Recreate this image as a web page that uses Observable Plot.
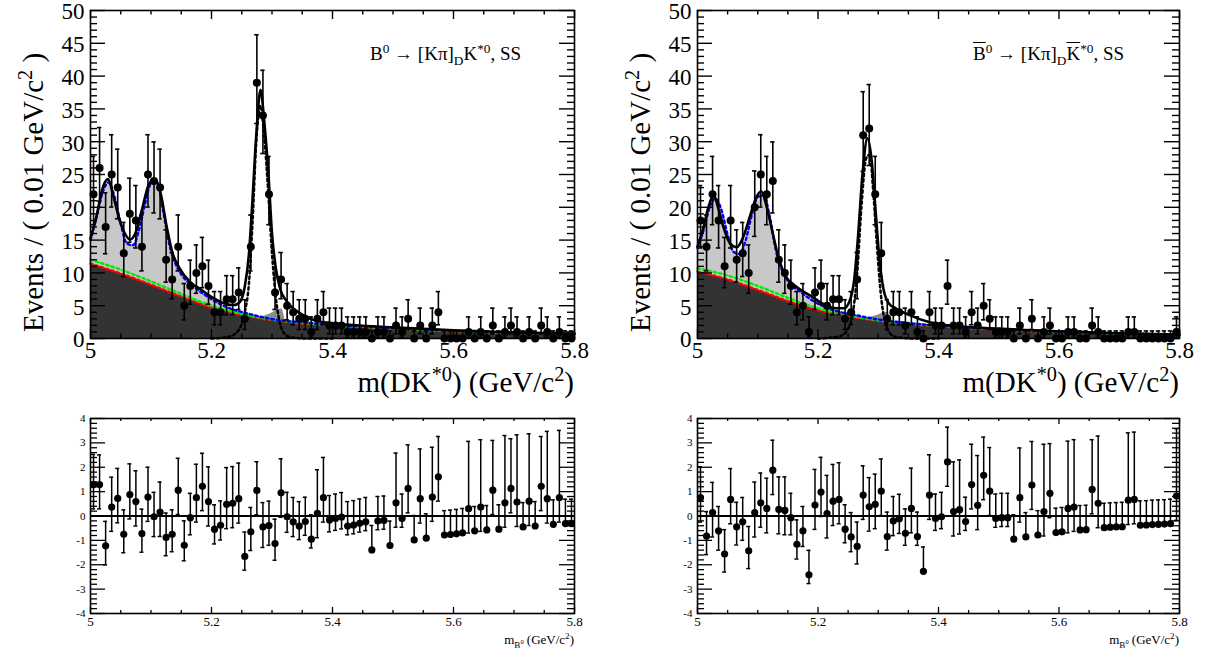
<!DOCTYPE html>
<html><head><meta charset="utf-8">
<script src="https://cdn.jsdelivr.net/npm/d3@7"></script>
<script src="https://cdn.jsdelivr.net/npm/@observablehq/plot@0.6"></script>
<style>
body{margin:0;background:#fff;}
#fig{position:relative;width:1206px;height:657px;overflow:hidden;font-family:"Liberation Serif","Times New Roman",serif;color:#000;background:#fff;}
.abs{position:absolute;white-space:nowrap;line-height:1;}
.ytitle{font-size:29px;transform:rotate(-90deg);transform-origin:left top;}
.xtitle{font-size:29px;}
sup,sub{font-size:0.7em;line-height:0;}
.ov{text-decoration:overline;}
</style></head>
<body><div id="fig">
<div id="tl" class="abs" style="left:0;top:0"></div>
<div id="tr" class="abs" style="left:607px;top:0"></div>
<div id="bl" class="abs" style="left:0;top:400px"></div>
<div id="br" class="abs" style="left:607px;top:400px"></div>
<div class="abs ytitle" style="left:19px;top:332px">Events / ( 0.01 GeV/c<sup>2</sup> )</div>
<div class="abs ytitle" style="left:626px;top:332px">Events / ( 0.01 GeV/c<sup>2</sup> )</div>
<div class="abs xtitle" style="right:632px;top:368px">m(DK<sup>*0</sup>) (GeV/c<sup>2</sup>)</div>
<div class="abs xtitle" style="right:27px;top:368px">m(DK<sup>*0</sup>) (GeV/c<sup>2</sup>)</div>
<div class="abs" style="left:370px;top:44px;font-size:19px">B<sup>0</sup> → [Kπ]<sub>D</sub>K<sup>*0</sup>, SS</div>
<div class="abs" style="left:973px;top:44px;font-size:19px"><span class="ov">B</span><sup>0</sup> → [Kπ]<sub>D</sub><span class="ov">K</span><sup>*0</sup>, SS</div>
<div class="abs" style="right:632px;top:633px;font-size:13px">m<sub>B<sup>0</sup></sub> (GeV/c<sup>2</sup>)</div>
<div class="abs" style="right:27px;top:633px;font-size:13px">m<sub>B<sup>0</sup></sub> (GeV/c<sup>2</sup>)</div>
</div>
<script>
// ---------------- data ----------------
const massBins = [5.005,5.015,5.025,5.035,5.045,5.055,5.065,5.075,5.085,5.095,5.105,5.115,5.125,5.135,5.145,5.155,5.165,5.175,5.185,5.195,5.205,5.215,5.225,5.235,5.245,5.255,5.265,5.275,5.285,5.295,5.305,5.315,5.325,5.335,5.345,5.355,5.365,5.375,5.385,5.395,5.405,5.415,5.425,5.435,5.445,5.455,5.465,5.475,5.485,5.495,5.505,5.515,5.525,5.535,5.545,5.555,5.565,5.575,5.585,5.595,5.605,5.615,5.625,5.635,5.645,5.655,5.665,5.675,5.685,5.695,5.705,5.715,5.725,5.735,5.745,5.755,5.765,5.775,5.785,5.795];

// B0 (left) counts per bin
const countsB0 = [22,26,17,25,23,13,19,18,14,25, 24,23,12,9,14,5,8,10,11,8, 4,4,6,6,7,3,14,39,34,22, 7,9,5,4,3,3,1,3,4,2, 2,2,1,1,1,1,0,1,1,0, 2,1,3,0,2,0,2,4,0,0, 0,0,1,0,1,0,2,0,1,2, 1,0,1,0,2,1,0,1,0,0];
// B0bar (right) counts per bin
const countsB0bar = [18,14,22,18,11,18,12,13,10,20, 25,22,24,12,10,8,4,5,1,7, 8,5,6,6,3,4,9,31,32,22, 13,3,4,4,2,4,1,0,4,2, 2,8,2,2,1,4,2,5,3,1, 1,1,0,2,0,3,0,1,2,0, 0,1,1,0,0,2,1,0,0,0, 0,1,1,0,0,0,0,0,0,1];

// pulls
const pullB0 = [1.29,1.29,-1.22,0.37,0.72,-0.75,0.88,0.59,-0.72,0.78, -0.03,0.16,-0.88,-0.75,1.06,-1.2,-0.07,0.75,1.22,0.59, -0.54,-0.38,0.48,0.52,0.71,-1.66,-0.65,1.05,-0.45,-0.39, -1.13,0.95,-0.03,-0.24,-0.41,-0.23,-0.95,0.11,0.75,-0.16, -0.1,-0.04,-0.41,-0.37,-0.3,-0.24,-1.39,-0.2,-0.18,-1.21, 0.54,-0.1,1.13,-0.98,0.71,-0.91,0.78,1.61,-0.78,-0.76, -0.73,-0.69,0.3,-0.61,0.37,-0.57,1.06,-0.54,0.54,1.13, 0.57,-0.45,0.61,-0.41,1.22,0.71,-0.34,0.75,-0.31,-0.31];
const pullB0bar = [0.75,-0.82,0.14,-0.61,-1.56,0.68,-0.44,-0.24,-1.43,0.14, 0.54,0.31,1.88,0.27,0.23,-0.07,-1.16,-0.61,-2.41,0.45, 0.98,0.1,0.61,0.68,-0.54,-0.86,-1.25,0.86,0.38,0.48, 1.02,-0.84,-0.2,-0.11,-0.71,0.31,-0.84,-2.27,0.86,-0.1, -0.03,2.22,0.18,0.26,-0.23,1.29,0.44,1.67,1.02,-0.1, -0.07,-0.07,-0.95,0.75,-0.86,1.27,-0.78,0.18,0.93,-0.68, -0.65,0.31,0.37,-0.57,-0.56,1.09,0.52,-0.48,-0.46,-0.45, -0.44,0.65,0.68,-0.38,-0.37,-0.35,-0.34,-0.33,-0.31,0.82];

// fit components
const bkgGridX = [5.0,5.05,5.1,5.15,5.2,5.25,5.3,5.35,5.4,5.5,5.6,5.7,5.8];
const combB0 = [11.4,9.9,8.2,6.4,4.7,3.6,2.8,2.3,2.0,1.5,1.1,0.85,0.65];
const combPlusB0 = [12.0,10.5,8.7,6.8,5.0,3.75,2.9,2.4,2.05,1.55,1.15,0.88,0.68];
const combB0bar = [10.2,9.0,7.4,5.7,4.3,3.4,2.7,2.2,1.85,1.35,1.0,0.75,0.55];
const combPlusB0bar = [10.7,9.6,8.0,6.2,4.6,3.55,2.8,2.3,1.9,1.4,1.03,0.77,0.57];

const partRecoX = [5.0,5.01,5.02,5.03,5.04,5.05,5.06,5.07,5.08,5.09,5.1,5.11,5.12,5.13,5.14,5.15,5.17,5.2,5.23,5.26,5.3,5.35,5.4,5.5,5.6,5.7,5.8];
const partRecoB0 = [15.0,18.5,22.3,23.8,21.5,17.5,14.5,14.2,16.5,20.5,23.6,23.8,19.5,14.5,11.5,9.8,8.0,6.0,4.6,3.8,2.95,2.45,2.1,1.6,1.2,0.9,0.7];
const partRecoB0bar = [13.8,16.5,20.0,21.3,19.5,15.8,13.2,12.9,15.0,18.8,21.6,21.8,18.5,13.5,10.5,8.8,7.2,5.3,4.2,3.6,2.9,2.35,1.95,1.45,1.05,0.78,0.57];

const totalB0X = [5.0,5.011,5.019,5.029,5.038,5.048,5.058,5.066,5.074,5.085,5.096,5.106,5.116,5.126,5.135,5.146,5.165,5.182,5.204,5.226,5.237,5.247,5.255,5.262,5.267,5.274,5.281,5.287,5.294,5.3,5.306,5.314,5.325,5.347,5.369,5.402,5.45,5.5,5.6,5.7,5.8];
const totalB0 = [15.3,19.1,22.6,24.3,21.6,18.1,15.8,15.1,16.0,19.6,23.4,24.3,22.1,17.0,13.2,10.9,8.6,7.5,6.1,5.2,5.1,5.6,7.9,13.0,20.0,31.0,37.9,33.3,25.2,16.0,10.9,7.4,5.6,3.8,2.8,2.3,1.95,1.7,1.25,0.93,0.72];
const totalB0barX = [5.0,5.01,5.018,5.027,5.034,5.043,5.054,5.065,5.076,5.087,5.098,5.106,5.115,5.125,5.134,5.147,5.164,5.186,5.208,5.23,5.243,5.252,5.26,5.266,5.274,5.282,5.289,5.296,5.302,5.309,5.318,5.329,5.351,5.384,5.416,5.5,5.6,5.7,5.8];
const totalB0bar = [14.0,17.0,20.0,21.9,20.0,17.0,14.5,13.9,15.5,18.6,21.6,22.4,20.0,16.0,12.5,9.4,7.9,6.6,5.3,4.6,4.6,5.6,8.9,15.0,25.2,30.5,27.2,19.0,12.0,7.4,5.3,4.6,3.6,2.5,2.0,1.5,1.1,0.8,0.6];

const signalB0X = [5.2,5.23,5.245,5.255,5.262,5.268,5.274,5.281,5.287,5.294,5.3,5.306,5.312,5.32,5.33,5.36,5.4];
const signalB0 = [0,0.3,1.3,4.0,8.5,18,30,35.5,31,22,13,6.5,2.8,0.8,0.2,0,0];
const signalB0barX = [5.2,5.235,5.25,5.258,5.265,5.272,5.28,5.286,5.292,5.298,5.304,5.31,5.318,5.33,5.36,5.4];
const signalB0bar = [0,0.3,1.5,4.0,10,20,27.5,28,22,14,7,3,1,0.2,0,0];

const bumpX = [5.28,5.29,5.3,5.31,5.316,5.322];
const bumpLoB0 = [3.2,3.05,2.85,2.7,2.65,2.6];
const bumpHiB0 = [3.2,3.5,3.9,4.4,4.5,2.6];
const bumpLoB0bar = [3.0,2.9,2.75,2.6,2.55,2.5];
const bumpHiB0bar = [3.0,3.3,3.6,3.9,3.95,2.5];

// axis ticks / labels
const xTickVals = [5.0,5.2,5.4,5.6,5.8];
const xTickText = ["5","5.2","5.4","5.6","5.8"];
const yTopVals = [0,5,10,15,20,25,30,35,40,45,50];
const yTopText = ["0","5","10","15","20","25","30","35","40","45","50"];
const yPullVals = [-4,-3,-2,-1,0,1,2,3,4];
const yPullText = ["-4","-3","-2","-1","0","1","2","3","4"];

// ---------------- helpers ----------------
const pts = (xs, ys) => xs.map((x, i) => ({x, y: ys[i]}));
function poisLo(n){ return n === 0 ? 0 : n*Math.pow(1 - 1/(9*n) - 1/(3*Math.sqrt(n)), 3); }
function poisHi(n){ if (n === 0) return 1.148; const m = n + 1; return m*Math.pow(1 - 1/(9*m) + 1/(3*Math.sqrt(m)), 3); }
const xMinor = d3.range(5.0, 5.8001, 0.05).filter(v => Math.abs(v*5 - Math.round(v*5)) > 1e-6);
const FONT = "Liberation Serif, Times New Roman, serif";
const C = "monotone-x";

function topPanel(id, W, mR, counts, comb, combPlus, partReco, totX, tot, sigX, sig, bLo, bHi) {
  const mL = 90, mT = 10, mB = 62, H = 400;
  const fw = W - mL - mR, fh = H - mT - mB;
  const rows = massBins.map((x, i) => ({x, n: counts[i], lo: poisLo(counts[i]), hi: poisHi(counts[i])}));
  const cap = 2.2 * 0.8 / fw;
  const yMinor = d3.range(1, 50).filter(v => v % 5 !== 0);
  const bump = bumpX.map((x, i) => ({x, lo: bLo[i], hi: bHi[i]}));
  const svg = Plot.plot({
    width: W, height: H, marginLeft: mL, marginRight: mR, marginTop: mT, marginBottom: mB,
    x: {domain: [5.0, 5.8], axis: null}, y: {domain: [0, 50], axis: null},
    style: {background: "transparent", overflow: "visible", fontFamily: FONT, color: "black"},
    marks: [
      Plot.areaY(pts(partRecoX, partReco), {x: "x", y: "y", fill: "#c8c8c8", curve: C}),
      Plot.areaY(pts(bkgGridX, comb), {x: "x", y: "y", fill: "#333333", curve: C}),
      Plot.areaY(bump, {x: "x", y1: "lo", y2: "hi", fill: "#8c8c8c", curve: C}),
      Plot.line(pts(bkgGridX, comb), {x: "x", y: "y", stroke: "#ff0000", strokeWidth: 2.5, strokeDasharray: "2.5,3", curve: C}),
      Plot.line(pts(bkgGridX, combPlus), {x: "x", y: "y", stroke: "#00ee00", strokeWidth: 2.5, strokeDasharray: "2.5,3", curve: C}),
      Plot.line(pts(partRecoX, partReco), {x: "x", y: "y", stroke: "#0000ff", strokeWidth: 2.5, strokeDasharray: "2.5,3", curve: C}),
      Plot.line(pts(sigX, sig), {x: "x", y: "y", stroke: "black", strokeWidth: 2.5, strokeDasharray: "2.5,3", curve: C}),
      Plot.line(pts(totX, tot), {x: "x", y: "y", stroke: "black", strokeWidth: 2.6, curve: C}),
      Plot.ruleX(rows, {x: "x", y1: "lo", y2: "hi", stroke: "black", strokeWidth: 1.6}),
      Plot.ruleY(rows, {y: "hi", x1: d => d.x - cap, x2: d => d.x + cap, stroke: "black", strokeWidth: 1.6}),
      Plot.ruleY(rows.filter(d => d.n > 0), {y: "lo", x1: d => d.x - cap, x2: d => d.x + cap, stroke: "black", strokeWidth: 1.6}),
      Plot.dot(rows, {x: "x", y: "n", r: 4, fill: "black", stroke: null}),
      Plot.frame({stroke: "black", strokeWidth: 1.6}),
      Plot.tickY(yTopVals, {y: d => d, insetRight: fw - 15, strokeWidth: 1.4}),
      Plot.tickY(yTopVals, {y: d => d, insetLeft: fw - 15, strokeWidth: 1.4}),
      Plot.tickY(yMinor, {y: d => d, insetRight: fw - 7, strokeWidth: 1.4}),
      Plot.tickY(yMinor, {y: d => d, insetLeft: fw - 7, strokeWidth: 1.4}),
      Plot.tickX(xTickVals, {x: d => d, insetBottom: fh - 9, strokeWidth: 1.4}),
      Plot.tickX(xTickVals, {x: d => d, insetTop: fh - 9, strokeWidth: 1.4}),
      Plot.tickX(xMinor, {x: d => d, insetBottom: fh - 4.5, strokeWidth: 1.4}),
      Plot.tickX(xMinor, {x: d => d, insetTop: fh - 4.5, strokeWidth: 1.4}),
      Plot.text(yTopVals, {y: d => d, text: (d, i) => yTopText[i], frameAnchor: "left", dx: -6, dy: 1.5, textAnchor: "end", fontSize: 23, fontFamily: FONT, fill: "black"}),
      Plot.text(xTickVals, {x: d => d, text: (d, i) => xTickText[i], frameAnchor: "bottom", lineAnchor: "top", dy: 3, fontSize: 23, fontFamily: FONT, fill: "black"})
    ]
  });
  document.getElementById(id).appendChild(svg);
}

function pullPanel(id, W, mR, counts, pulls) {
  const mL = 90, mT = 18, mB = 44, H = 257;
  const fw = W - mL - mR, fh = H - mT - mB;
  const rows = massBins.map((x, i) => {
    const n = counts[i], r = pulls[i];
    const eLo = n - poisLo(n), eHi = poisHi(n) - n;
    let lo, hi;
    if (r >= 0) { lo = r - 1; hi = r + (eLo > 0 ? eHi / eLo : 1); }
    else { hi = r + 1; lo = r - eLo / eHi; }
    return {x, r, lo, hi};
  });
  const cap = 2.0 * 0.8 / fw;
  const yMinor = d3.range(-4, 4.0001, 0.2).filter(v => Math.abs(v - Math.round(v)) > 1e-6);
  const svg = Plot.plot({
    width: W, height: H, marginLeft: mL, marginRight: mR, marginTop: mT, marginBottom: mB,
    x: {domain: [5.0, 5.8], axis: null}, y: {domain: [-4, 4], axis: null},
    style: {background: "transparent", overflow: "visible", fontFamily: FONT, color: "black"},
    marks: [
      Plot.ruleY([0], {stroke: "black", strokeWidth: 1.8}),
      Plot.ruleX(rows, {x: "x", y1: "lo", y2: "hi", stroke: "black", strokeWidth: 1.5}),
      Plot.ruleY(rows, {y: "hi", x1: d => d.x - cap, x2: d => d.x + cap, stroke: "black", strokeWidth: 1.5}),
      Plot.ruleY(rows.filter(d => d.lo < d.r - 0.01), {y: "lo", x1: d => d.x - cap, x2: d => d.x + cap, stroke: "black", strokeWidth: 1.5}),
      Plot.dot(rows, {x: "x", y: "r", r: 3.6, fill: "black", stroke: null}),
      Plot.frame({stroke: "black", strokeWidth: 1.6}),
      Plot.tickY(yPullVals, {y: d => d, insetRight: fw - 15, strokeWidth: 1.3}),
      Plot.tickY(yPullVals, {y: d => d, insetLeft: fw - 15, strokeWidth: 1.3}),
      Plot.tickY(yMinor, {y: d => d, insetRight: fw - 7, strokeWidth: 1.3}),
      Plot.tickY(yMinor, {y: d => d, insetLeft: fw - 7, strokeWidth: 1.3}),
      Plot.tickX(xTickVals, {x: d => d, insetBottom: fh - 6, strokeWidth: 1.3}),
      Plot.tickX(xTickVals, {x: d => d, insetTop: fh - 6, strokeWidth: 1.3}),
      Plot.tickX(xMinor, {x: d => d, insetBottom: fh - 3, strokeWidth: 1.3}),
      Plot.tickX(xMinor, {x: d => d, insetTop: fh - 3, strokeWidth: 1.3}),
      Plot.text(yPullVals, {y: d => d, text: (d, i) => yPullText[i], frameAnchor: "left", dx: -5, textAnchor: "end", fontSize: 11, fontFamily: FONT, fill: "black"}),
      Plot.text(xTickVals, {x: d => d, text: (d, i) => xTickText[i], frameAnchor: "bottom", lineAnchor: "top", dy: 3, fontSize: 13, fontFamily: FONT, fill: "black"})
    ]
  });
  document.getElementById(id).appendChild(svg);
}

topPanel("tl", 603, 29, countsB0, combB0, combPlusB0, partRecoB0, totalB0X, totalB0, signalB0X, signalB0, bumpLoB0, bumpHiB0);
topPanel("tr", 599, 27, countsB0bar, combB0bar, combPlusB0bar, partRecoB0bar, totalB0barX, totalB0bar, signalB0barX, signalB0bar, bumpLoB0bar, bumpHiB0bar);
pullPanel("bl", 603, 29, countsB0, pullB0);
pullPanel("br", 599, 27, countsB0bar, pullB0bar);
</script>
</body></html>
